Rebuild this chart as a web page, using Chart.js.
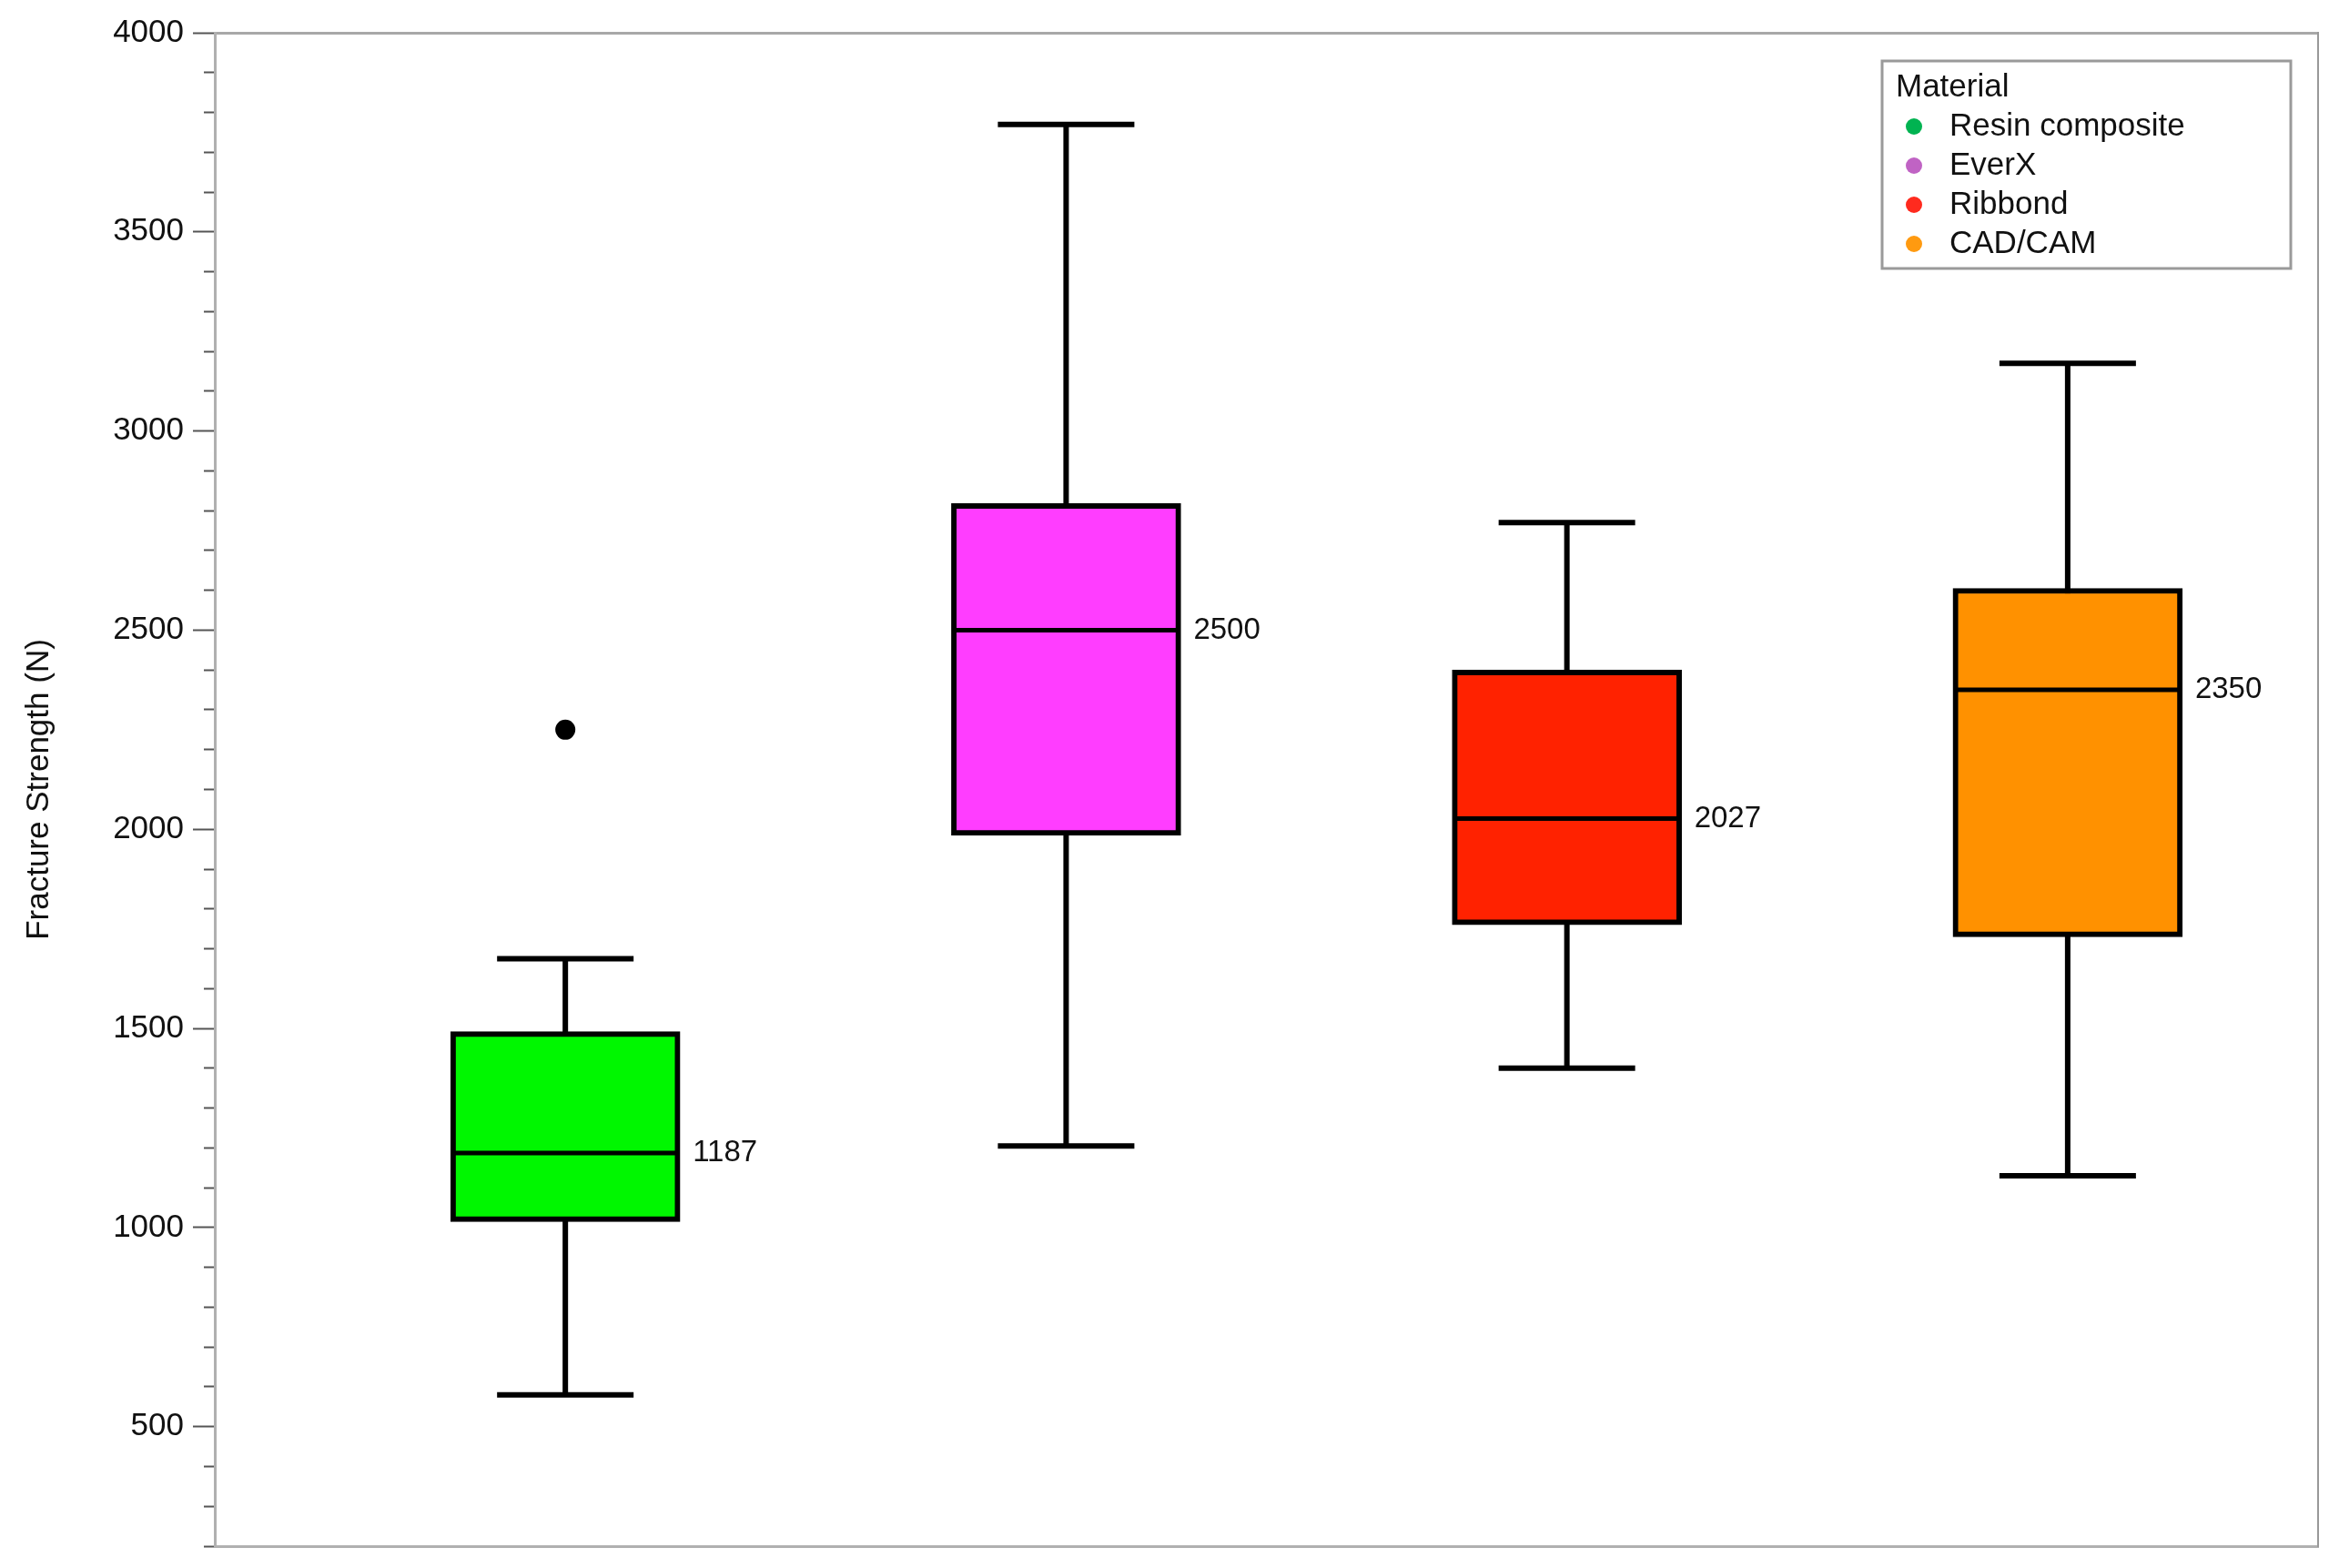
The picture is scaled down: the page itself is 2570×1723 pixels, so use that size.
<!DOCTYPE html>
<html>
<head>
<meta charset="utf-8">
<script src="https://cdn.jsdelivr.net/npm/chart.js@4.4.1/dist/chart.umd.min.js"></script>
<style>
  html, body { margin: 0; padding: 0; background: #fff; }
  #wrap { width: 2570px; height: 1723px; position: relative; }
</style>
</head>
<body>
<div id="wrap"><canvas id="chartCanvas"></canvas></div>
<script>
// box plot values (N)
const materials = ['Resin composite', 'EverX', 'Ribbond', 'CAD/CAM'];
const positions = [1, 2, 3, 4];
const mins = [580, 1205, 1400, 1130];
const q1s = [1015, 1985, 1760, 1730];
const medians = [1187, 2500, 2027, 2350];
const q3s = [1492, 2818, 2400, 2605];
const maxs = [1675, 3770, 2770, 3170];
const outliers = [{ x: 1, y: 2250 }];
const medianLabels = ['1187', '2500', '2027', '2350'];
const yMin = 200, yMax = 4000, yMajorStep = 500, yMinorStep = 100;

const boxColors = ['#00f700', '#ff3dff', '#ff2200', '#ff9100'];
const legendColors = ['#00b351', '#c063c4', '#ff2a1e', '#ff9a10'];
const FONT = "'Liberation Sans', Arial, Helvetica, sans-serif";

const whiskerData = [], capData = [];
positions.forEach((x, i) => {
  whiskerData.push({ x, y: mins[i] }, { x, y: maxs[i] }, { x, y: null });
  capData.push({ x, y: mins[i] }, { x, y: maxs[i] });
});

const medianLabelPlugin = {
  id: 'medianLabels',
  afterDatasetsDraw(chart) {
    const ctx = chart.ctx, yScale = chart.scales.y, bars = chart.getDatasetMeta(1).data;
    ctx.save();
    ctx.font = '33px ' + FONT; ctx.fillStyle = '#111'; ctx.textAlign = 'left'; ctx.textBaseline = 'middle';
    bars.forEach((bar, i) => ctx.fillText(medianLabels[i], bar.x + bar.width / 2 + 14, yScale.getPixelForValue(medians[i])));
    ctx.restore();
  }
};

const legendPlugin = {
  id: 'materialLegend',
  afterDraw(chart) {
    const ctx = chart.ctx, area = chart.chartArea;
    const w = 449, h = 228, left = area.right - 30 - w, top = area.top + 31;
    ctx.save();
    ctx.fillStyle = '#fff'; ctx.fillRect(left, top, w, h);
    ctx.strokeStyle = '#9a9a9a'; ctx.lineWidth = 3; ctx.strokeRect(left, top, w, h);
    ctx.font = '35px ' + FONT; ctx.fillStyle = '#111'; ctx.textBaseline = 'middle'; ctx.textAlign = 'left';
    ctx.fillText('Material', left + 15, top + 29);
    materials.forEach((m, i) => {
      const y = top + 72 + i * 43;
      ctx.beginPath(); ctx.fillStyle = legendColors[i]; ctx.arc(left + 35, y, 9, 0, Math.PI * 2); ctx.fill();
      ctx.fillStyle = '#111'; ctx.fillText(m, left + 74, y);
    });
    ctx.restore();
  }
};

const ctx = document.getElementById('chartCanvas').getContext('2d');
new Chart(ctx, {
  type: 'bar',
  data: {
    datasets: [
      { type: 'line', label: 'whiskers', data: whiskerData, borderColor: '#000', borderWidth: 6, pointRadius: 0, spanGaps: false, order: 3 },
      { type: 'bar', label: 'boxes', data: positions.map((x, i) => ({ x, y: [q1s[i], q3s[i]] })), backgroundColor: boxColors, borderColor: '#000', borderWidth: 6, borderSkipped: false, barThickness: 252, order: 2 },
      { type: 'scatter', label: 'medians', data: positions.map((x, i) => ({ x, y: medians[i] })), pointStyle: 'line', pointRadius: 123, pointBorderColor: '#000', pointBorderWidth: 5, order: 1 },
      { type: 'scatter', label: 'caps', data: capData, pointStyle: 'line', pointRadius: 75, pointBorderColor: '#000', pointBorderWidth: 6, order: 1 },
      { type: 'scatter', label: 'outliers', data: outliers, pointRadius: 11, pointBackgroundColor: '#000', pointBorderWidth: 0, order: 1 }
    ]
  },
  options: {
    responsive: true, maintainAspectRatio: false, animation: false, devicePixelRatio: 1,
    layout: { autoPadding: false, padding: { left: 0, top: 36, right: 23, bottom: 24 } },
    plugins: { legend: { display: false }, tooltip: { enabled: false } },
    scales: {
      x: { type: 'linear', position: 'bottom', min: 0.3, max: 4.5, offset: false,
        grid: { display: false, drawTicks: false }, ticks: { display: false },
        border: { display: true, color: '#b0b0b0', width: 3 }, afterFit: s => { s.height = 0; } },
      xTop: { type: 'linear', position: 'top', min: 0.3, max: 4.5, offset: false,
        grid: { display: false, drawTicks: false }, ticks: { display: false },
        border: { display: true, color: '#a8a8a8', width: 3 }, afterFit: s => { s.height = 0; } },
      y: { type: 'linear', position: 'left', min: yMin, max: yMax,
        ticks: { stepSize: yMinorStep, autoSkip: false, padding: 10, color: '#111', font: { family: FONT, size: 35 },
          callback: v => (v % yMajorStep === 0 ? String(v) : '') },
        grid: { display: true, drawOnChartArea: false, drawTicks: true, tickLength: 24, tickColor: '#555', tickWidth: 2,
          tickBorderDash: c => (c.tick && c.tick.value % yMajorStep === 0 ? [] : [0, 12, 12]) },
        border: { display: true, color: '#b0b0b0', width: 3 },
        title: { display: true, text: 'Fracture Strength (N)', color: '#111', font: { family: FONT, size: 35 }, padding: { top: 22, bottom: 0 } },
        afterFit: s => { s.width = 236; s.paddingTop = 0; s.paddingBottom = 0; } },
      yRight: { type: 'linear', position: 'right', min: yMin, max: yMax,
        grid: { display: false, drawTicks: false }, ticks: { display: false },
        border: { display: true, color: '#999', width: 2 }, afterFit: s => { s.width = 0; } }
    }
  },
  plugins: [medianLabelPlugin, legendPlugin]
});
</script>
</body>
</html>
